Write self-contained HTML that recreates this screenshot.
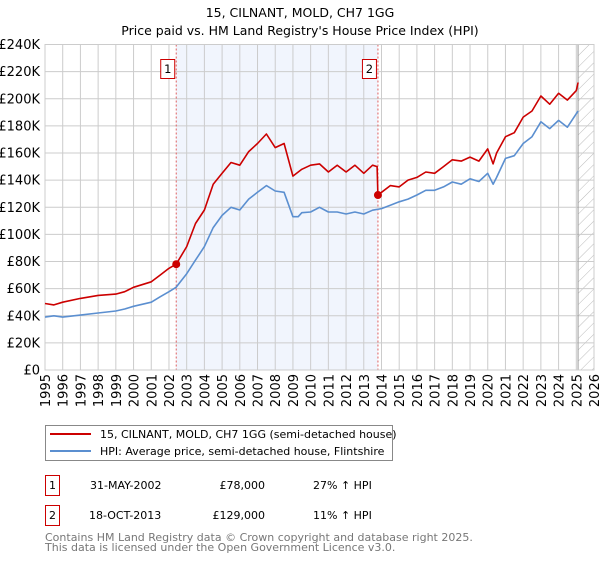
<!DOCTYPE html>
<html><head><meta charset="utf-8"><style>
body{margin:0;background:#fff;font-family:"Liberation Sans","DejaVu Sans",sans-serif;}
svg text{font-family:"DejaVu Sans","Liberation Sans",sans-serif;}
</style></head><body>
<svg id="c" width="600" height="560" viewBox="0 0 600 560" xmlns="http://www.w3.org/2000/svg">
<defs><pattern id="hatch" patternUnits="userSpaceOnUse" width="8" height="8" patternTransform="rotate(45)"><line x1="0" y1="0" x2="0" y2="8" stroke="#bbb" stroke-width="1"/></pattern></defs>
<text x="300" y="17" text-anchor="middle" font-size="12.5">15, CILNANT, MOLD, CH7 1GG</text>
<text x="300" y="35" text-anchor="middle" font-size="12.5">Price paid vs. HM Land Registry's House Price Index (HPI)</text>
<g id="plot"></g>
<g>
<rect x="45.5" y="425.5" width="347" height="35" fill="#fff" stroke="#888"/>
<line x1="50" y1="434" x2="91" y2="434" stroke="#cc0000" stroke-width="2"/>
<text x="100" y="438" font-size="11">15, CILNANT, MOLD, CH7 1GG (semi-detached house)</text>
<line x1="50" y1="451" x2="91" y2="451" stroke="#5b8fd0" stroke-width="2"/>
<text x="100" y="455" font-size="11">HPI: Average price, semi-detached house, Flintshire</text>
</g>
<g font-size="11">
<rect x="45.5" y="475.5" width="14" height="20" fill="#fff" stroke="#cc0000"/>
<text x="52.5" y="489" text-anchor="middle">1</text>
<text x="90" y="489">31-MAY-2002</text>
<text x="265" y="489" text-anchor="end">£78,000</text>
<text x="313" y="489">27% ↑ HPI</text>
<rect x="45.5" y="505.5" width="14" height="20" fill="#fff" stroke="#cc0000"/>
<text x="52.5" y="519" text-anchor="middle">2</text>
<text x="89" y="519">18-OCT-2013</text>
<text x="265" y="519" text-anchor="end">£129,000</text>
<text x="313" y="519">11% ↑ HPI</text>
</g>
<text x="45" y="541" font-size="11" fill="#777">Contains HM Land Registry data © Crown copyright and database right 2025.</text>
<text x="45" y="551" font-size="11" fill="#777">This data is licensed under the Open Government Licence v3.0.</text>
</svg>
<script>
const hpiT=[1995,1995.5,1996,1997,1998,1999,1999.5,2000,2001,2001.5,2002,2002.4,2003,2003.5,2004,2004.5,2005,2005.5,2006,2006.5,2007,2007.5,2008,2008.5,2009,2009.3,2009.5,2010,2010.5,2011,2011.5,2012,2012.5,2013,2013.5,2014,2014.5,2015,2015.5,2016,2016.5,2017,2017.5,2018,2018.5,2019,2019.5,2020,2020.3,2020.5,2021,2021.5,2022,2022.5,2023,2023.5,2024,2024.5,2025,2025.1];
const hpiV=[39,40,39,40.5,42,43.5,45,47,50,54,57.7,61,71,81,91,105,114,120,118,126,131,136,132,131,113,113,116,116.5,120,116.5,116.5,115,116.5,115,117.8,119,121.5,124,126,129,132.5,132.5,135,138.6,137,141,139,145,137,142,156,158,167,172,183,178,184,179,189,191];
const priceT=[1995,1995.5,1996,1997,1998,1999,1999.5,2000,2001,2001.5,2002,2002.41,2003,2003.5,2004,2004.5,2005,2005.5,2006,2006.5,2007,2007.5,2008,2008.5,2009,2009.5,2010,2010.5,2011,2011.5,2012,2012.5,2013,2013.5,2013.75,2013.8,2014,2014.5,2015,2015.5,2016,2016.5,2017,2017.5,2018,2018.5,2019,2019.5,2020,2020.3,2020.5,2021,2021.5,2022,2022.5,2023,2023.5,2024,2024.5,2025,2025.1];
const priceV=[49,48,50,52.8,55,56,57.7,61,65,70,75,78,91,108,118,137,145,153,151,161,167,174,164,167,143,148,151,152,146,151,146,151,145,151,150,129,131,136,135,140,142,146,145,150,155,154,157,154,163,152,160,172,175,186.5,191,202,196,204,199,206,212];
const salesT=[2002.41,2013.8];
const salesV=[78,129];
const yTicks=[0,20,40,60,80,100,120,140,160,180,200,220,240];
const xYears=[1995,1996,1997,1998,1999,2000,2001,2002,2003,2004,2005,2006,2007,2008,2009,2010,2011,2012,2013,2014,2015,2016,2017,2018,2019,2020,2021,2022,2023,2024,2025,2026];
const X0=45,X1=594,Y0=370,Y1=44.5,dataEnd=2025.1;
const sx=t=>X0+(t-1995)/(2026-1995)*(X1-X0);
const sy=v=>Y0-v/240*(Y0-Y1);
const NS="http://www.w3.org/2000/svg",g=document.getElementById('plot');
function mk(tag,at,parent){const e=document.createElementNS(NS,tag);for(const k in at)e.setAttribute(k,at[k]);(parent||g).appendChild(e);return e;}
let e=mk('rect',{x:X0,y:Y1,width:X1-X0,height:Y0-Y1,fill:'#fff'});


e=mk('rect',{x:sx(salesT[0]),y:Y1,width:sx(salesT[1])-sx(salesT[0]),height:Y0-Y1,fill:'#eef3fc',opacity:0.8});


e=mk('rect',{x:sx(dataEnd),y:Y1,width:X1-sx(dataEnd),height:Y0-Y1,fill:'url(#hatch)'});


yTicks.forEach(v=>{
 e=mk('line',{x1:X0,x2:X1,y1:sy(v),y2:sy(v),stroke:'#ccc','stroke-width':1});
 
 
 e=mk('text',{x:X0-5,y:sy(v)+4.5,'text-anchor':'end','font-size':13});
 e.textContent=v===0?'£0':'£'+v+'K';
 
 
});
xYears.forEach(t=>{
 e=mk('line',{x1:sx(t),x2:sx(t),y1:Y1,y2:Y0,stroke:'#ccc','stroke-width':1});
 
 
 e=mk('text',{x:0,y:0,'text-anchor':'end','font-size':13,transform:`translate(${sx(t)+5},374) rotate(-90)`});
 e.textContent=t;
 
 
});
e=mk('line',{x1:sx(dataEnd),x2:sx(dataEnd),y1:Y1,y2:Y0,stroke:'#999','stroke-width':1});


salesT.forEach((t,i)=>{
 e=mk('line',{x1:sx(t),x2:sx(t),y1:Y1,y2:Y0,stroke:'#e06060','stroke-width':1,'stroke-dasharray':'2,2'});
 
 
 e=mk('rect',{x:sx(t)-15.5,y:59.5,width:14,height:19,fill:'#fff',stroke:'#cc0000'});
 
 
 e=mk('text',{x:sx(t)-8.5,y:73,'text-anchor':'middle','font-size':11.5});
 e.textContent=String(i+1);
 
 
});
e=mk('rect',{x:X0,y:Y1,width:X1-X0,height:Y0-Y1,fill:'none',stroke:'#ccc'});


function path(T,V){return T.map((t,i)=>(i?'L':'M')+sx(t).toFixed(1)+','+sy(V[i]).toFixed(1)).join('');}
e=mk('path',{d:path(hpiT,hpiV),fill:'none',stroke:'#5b8fd0','stroke-width':1.6,'stroke-linejoin':'round'});


e=mk('path',{d:path(priceT,priceV),fill:'none',stroke:'#cc0000','stroke-width':1.6,'stroke-linejoin':'round'});


salesT.forEach((t,i)=>{
 e=mk('circle',{cx:sx(t),cy:sy(salesV[i]),r:4,fill:'#cc0000'});
 
 
});
</script>
</body></html>
